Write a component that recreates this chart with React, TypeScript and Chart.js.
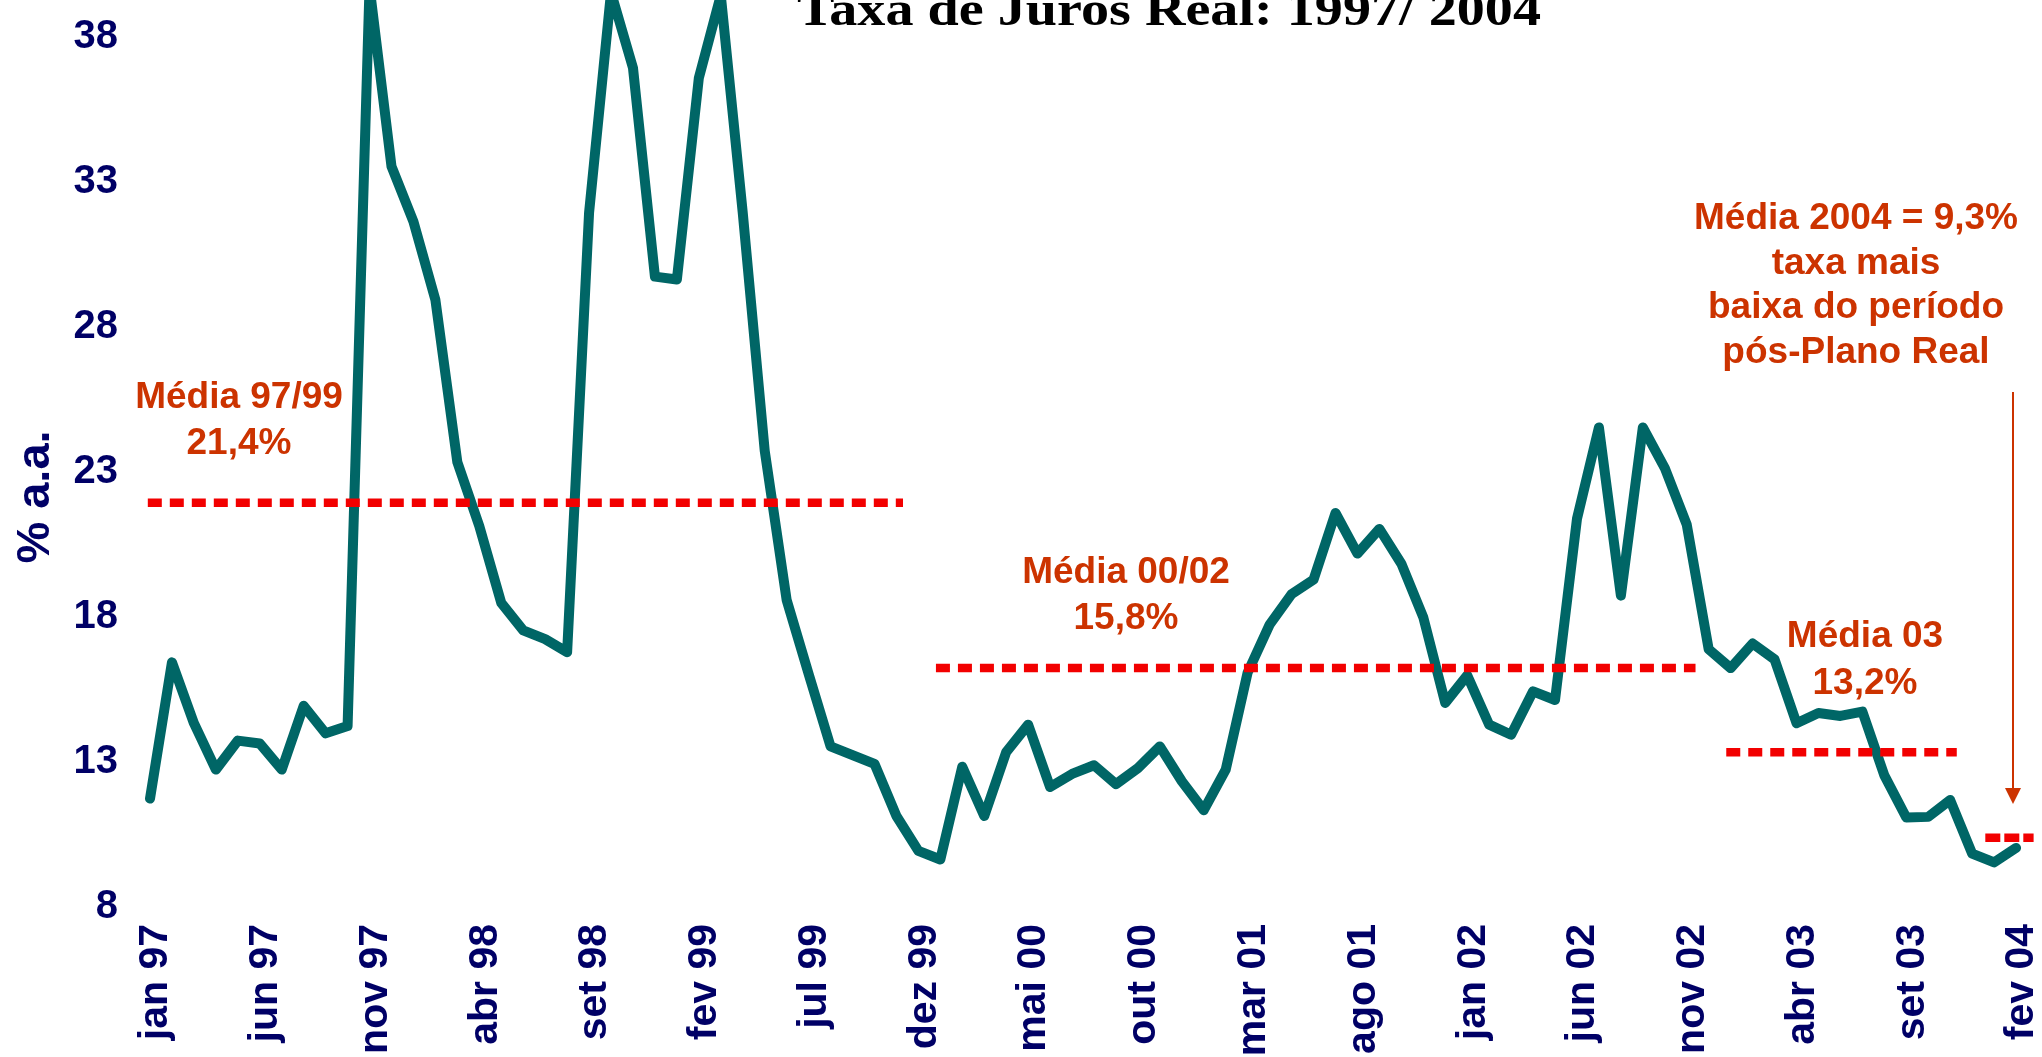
import React, { useEffect, useRef } from 'react';
import { Chart, registerables } from 'chart.js';

Chart.register(...registerables);

// Month categories, jan 97 .. fev 04
const months = [
  'jan 97', 'fev 97', 'mar 97', 'abr 97', 'mai 97', 'jun 97', 'jul 97', 'ago 97', 'set 97', 'out 97', 'nov 97', 'dez 97',
  'jan 98', 'fev 98', 'mar 98', 'abr 98', 'mai 98', 'jun 98', 'jul 98', 'ago 98', 'set 98', 'out 98', 'nov 98', 'dez 98',
  'jan 99', 'fev 99', 'mar 99', 'abr 99', 'mai 99', 'jun 99', 'jul 99', 'ago 99', 'set 99', 'out 99', 'nov 99', 'dez 99',
  'jan 00', 'fev 00', 'mar 00', 'abr 00', 'mai 00', 'jun 00', 'jul 00', 'ago 00', 'set 00', 'out 00', 'nov 00', 'dez 00',
  'jan 01', 'fev 01', 'mar 01', 'abr 01', 'mai 01', 'jun 01', 'jul 01', 'ago 01', 'set 01', 'out 01', 'nov 01', 'dez 01',
  'jan 02', 'fev 02', 'mar 02', 'abr 02', 'mai 02', 'jun 02', 'jul 02', 'ago 02', 'set 02', 'out 02', 'nov 02', 'dez 02',
  'jan 03', 'fev 03', 'mar 03', 'abr 03', 'mai 03', 'jun 03', 'jul 03', 'ago 03', 'set 03', 'out 03', 'nov 03', 'dez 03',
  'jan 04', 'fev 04',
];

// Real interest rate, % a.a.
const realRate = [
  11.6, 16.3, 14.2, 12.6, 13.6, 13.5, 12.6, 14.8, 13.85, 14.1,
  39.6, 33.4, 31.5, 28.8, 23.2, 21.0, 18.35, 17.4, 17.1, 16.65,
  31.8, 39.4, 36.8, 29.6, 29.5, 36.45, 39.3, 31.8, 23.6, 18.45,
  15.9, 13.4, 13.1, 12.8, 11.0, 9.8, 9.5, 12.7, 11.0, 13.2,
  14.15, 12.0, 12.45, 12.75, 12.1, 12.65, 13.4, 12.2, 11.2, 12.6,
  15.95, 17.6, 18.65, 19.15, 21.45, 20.05, 20.9, 19.7, 17.85, 14.9,
  15.85, 14.15, 13.8, 15.3, 15.0, 21.25, 24.4, 18.6, 24.4, 23.0,
  21.05, 16.75, 16.1, 16.95, 16.4, 14.2, 14.55, 14.45, 14.6, 12.4,
  10.95, 10.97, 11.55, 9.7, 9.4, 9.9,
];

const yTicks = [8, 13, 18, 23, 28, 33, 38];
const xTickIndices = [0, 5, 10, 15, 20, 25, 30, 35, 40, 45, 50, 55, 60, 65, 70, 75, 80, 85];

// Period averages (dashed lines), in month-index units on x
const meanLevels = [21.8, 16.1, 13.2, 10.25];
const meanStarts = [-0.1, 35.8, 71.8, 83.6];
const meanEnds = [34.3, 70.4, 82.3, 85.8];

const meanTexts = [
  ['Média 97/99', '21,4%'],
  ['Média 00/02', '15,8%'],
  ['Média 03', '13,2%'],
  ['Média 2004 = 9,3%', 'taxa mais', 'baixa do período', 'pós-Plano Real'],
];

const titleText = 'Taxa de Juros Real: 1997/ 2004';
const yAxisTitle = '% a.a.';

const NAVY = '#000066';
const TEAL = '#006666';
const ORANGE = '#CC3300';
const RED = '#F20000';
const SANS = '"Liberation Sans", Arial, Helvetica, sans-serif';

// layout of annotation blocks: [centerX, first baseline, line step]
const textBlocks = [
  [239, 408, 46],
  [1126, 583, 46],
  [1865, 647, 47],
  [1856, 229, 44.7],
];

const annotationPlugin = {
  id: 'annotations',
  afterDraw(chart: any) {
    const ctx = chart.ctx as CanvasRenderingContext2D;
    ctx.save();

    // Title (partly cut off at the top, as in the source)
    ctx.font = 'bold 49px "Liberation Serif", "Times New Roman", serif';
    ctx.fillStyle = '#000000';
    ctx.textAlign = 'left';
    ctx.textBaseline = 'alphabetic';
    const tw = ctx.measureText(titleText).width;
    ctx.save();
    ctx.translate(797, 25);
    ctx.scale(744 / tw, 1);
    ctx.fillText(titleText, 0, 0);
    ctx.restore();

    // Y axis title
    ctx.save();
    ctx.translate(49, 497);
    ctx.rotate(-Math.PI / 2);
    ctx.font = 'bold 47px ' + SANS;
    ctx.fillStyle = NAVY;
    ctx.textAlign = 'center';
    ctx.textBaseline = 'alphabetic';
    ctx.fillText(yAxisTitle, 0, 0);
    ctx.restore();

    // Average annotations
    ctx.font = 'bold 37px ' + SANS;
    ctx.fillStyle = ORANGE;
    ctx.textAlign = 'center';
    ctx.textBaseline = 'alphabetic';
    meanTexts.forEach((lines, k) => {
      const [cx, by, step] = textBlocks[k];
      lines.forEach((t, j) => ctx.fillText(t, cx, by + j * step));
    });

    // Arrow pointing to the 2004 average
    const ax = 2013;
    ctx.strokeStyle = ORANGE;
    ctx.fillStyle = ORANGE;
    ctx.lineWidth = 2;
    ctx.beginPath();
    ctx.moveTo(ax, 392);
    ctx.lineTo(ax, 790);
    ctx.stroke();
    ctx.beginPath();
    ctx.moveTo(ax - 8, 788);
    ctx.lineTo(ax + 8, 788);
    ctx.lineTo(ax, 804);
    ctx.closePath();
    ctx.fill();

    ctx.restore();
  },
};

export default function App() {
  const canvasRef = useRef<HTMLCanvasElement | null>(null);

  useEffect(() => {
    if (!canvasRef.current) return;
    const meanSets = meanLevels.map((lvl, k) => ({
      data: [
        { x: meanStarts[k], y: lvl },
        { x: meanEnds[k], y: lvl },
      ],
      borderColor: RED,
      borderWidth: 8.5,
      borderDash: k === 3 ? [15, 4] : [14, 8],
      borderCapStyle: 'butt' as const,
      pointRadius: 0,
      tension: 0,
      clip: false as any,
      order: 0,
    }));

    const chart = new Chart(canvasRef.current, {
      type: 'line',
      data: {
        datasets: [
          {
            data: realRate.map((v, i) => ({ x: i, y: v })),
            borderColor: TEAL,
            borderWidth: 10,
            borderJoinStyle: 'round',
            borderCapStyle: 'round',
            pointRadius: 0,
            tension: 0,
            clip: false as any,
            order: 1,
          },
          ...meanSets,
        ],
      },
      options: {
        animation: false,
        responsive: true,
        maintainAspectRatio: false,
        layout: { padding: { top: 0, right: 4, bottom: 0, left: 0 } },
        plugins: {
          legend: { display: false },
          tooltip: { enabled: false },
          title: { display: false },
        },
        scales: {
          x: {
            type: 'linear',
            min: 0,
            max: 86,
            grid: { display: false, drawTicks: false },
            border: { display: false },
            afterBuildTicks: (s: any) => {
              s.ticks = xTickIndices.map((v) => ({ value: v }));
            },
            afterFit: (s: any) => {
              s.height = 154;
              s.paddingLeft = 0;
              s.paddingRight = 0;
            },
            ticks: {
              autoSkip: false,
              minRotation: 90,
              maxRotation: 90,
              padding: 21,
              labelOffset: 6,
              color: NAVY,
              font: { family: SANS, size: 41, weight: 'bold' },
              callback: (v: any) => months[v as number],
            },
          },
          y: {
            type: 'linear',
            min: 8,
            max: 39.14,
            grid: { display: false, drawTicks: false },
            border: { display: false },
            afterBuildTicks: (s: any) => {
              s.ticks = yTicks.map((v) => ({ value: v }));
            },
            afterFit: (s: any) => {
              s.width = 150;
              s.paddingTop = 0;
              s.paddingBottom = 0;
            },
            ticks: {
              padding: 32,
              labelOffset: 4,
              color: NAVY,
              font: { family: SANS, size: 40, weight: 'bold' },
              callback: (v: any) => String(v),
            },
          },
        },
      } as any,
      plugins: [annotationPlugin],
    });
    return () => chart.destroy();
  }, []);

  return (
    <div style={{ position: 'fixed', left: 0, top: 0, width: 2042, height: 1057, background: '#ffffff' }}>
      <canvas ref={canvasRef} />
    </div>
  );
}
